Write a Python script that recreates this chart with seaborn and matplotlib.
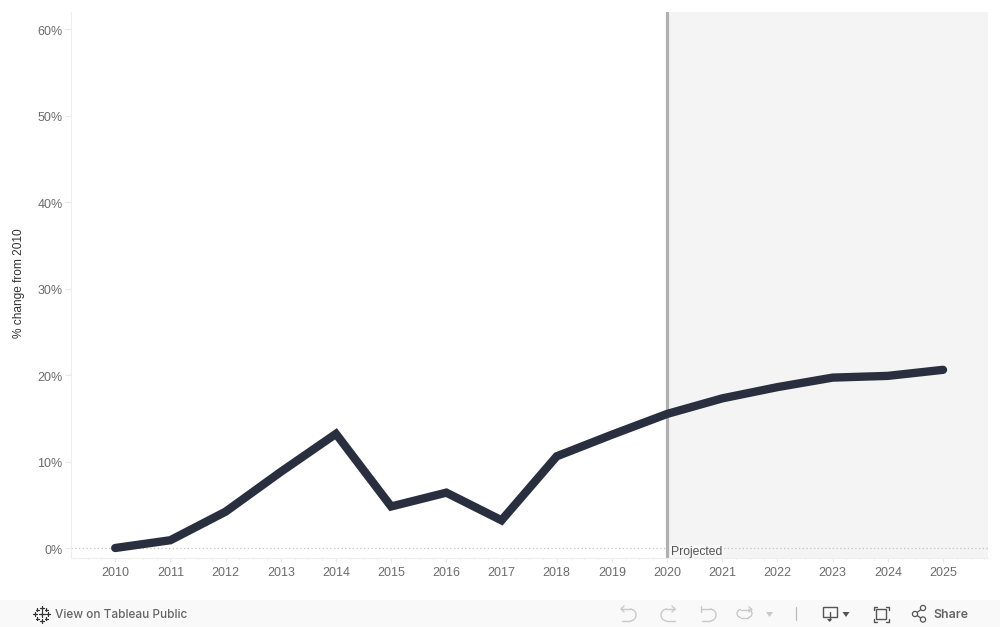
import matplotlib
matplotlib.use("Agg")
import matplotlib.pyplot as plt
import seaborn as sns
import pandas as pd
from matplotlib.patches import Rectangle, Circle, Polygon, Arc
from matplotlib.transforms import ScaledTranslation

years = [2010, 2011, 2012, 2013, 2014, 2015, 2016, 2017, 2018, 2019, 2020, 2021, 2022, 2023, 2024, 2025]
pct_change = [0.0, 0.9, 4.2, 8.8, 13.2, 4.8, 6.4, 3.2, 10.6, 13.1, 15.5, 17.3, 18.6, 19.7, 19.9, 20.6]
y_ticks = [0, 10, 20, 30, 40, 50, 60]
y_labels = ["0%", "10%", "20%", "30%", "40%", "50%", "60%"]

W, H = 1000, 627
sns.set_theme(style="white")
plt.rcParams["font.family"] = ["Liberation Sans", "DejaVu Sans"]

fig = plt.figure(figsize=(W / 100, H / 100), dpi=100, facecolor="white")
ax = fig.add_axes([70.5 / W, 1 - 558 / H, (988 - 70.5) / W, (558 - 12) / H])

df = pd.DataFrame({"year": years, "pct": pct_change})

# projected band and its divider
ax.axvspan(2020, 2025.815, color="#f4f4f4", lw=0, zorder=0)
ax.axhline(0, color="#c4c4c4", lw=0.9, ls=(0, (1, 2)), zorder=1)
ax.axvline(2020, color="#b0b0b0", lw=2.3, zorder=2)

sns.lineplot(data=df, x="year", y="pct", ax=ax, color="#2a2f40", lw=6,
             solid_capstyle="round", solid_joinstyle="miter", zorder=3)

ax.set_xlim(2009.19, 2025.815)
ax.set_ylim(-1.156, 61.97)
ax.set_xticks(years)
ax.set_xticklabels([str(y) for y in years])
ax.set_yticks(y_ticks)
ax.set_yticklabels(y_labels)
ax.set_xticks([y + d for y in [2009] + years for d in (0.25, 0.5, 0.75)
               if 2009.19 < y + d < 2025.815], minor=True)
ax.tick_params(axis="both", which="major", labelsize=9, labelcolor="#6b6b6b",
               color="#e8e8e8", width=0.8, left=True, bottom=True)
ax.tick_params(axis="y", which="major", length=4.3, pad=1.3)
ax.tick_params(axis="x", which="major", length=3, pad=3.2)
ax.tick_params(axis="x", which="minor", color="#f0f0f0", length=1.5, width=0.7, bottom=True)
ax.set_xlabel("")
ax.set_ylabel("")
for side in ("top", "right"):
    ax.spines[side].set_visible(False)
for side in ("left", "bottom"):
    ax.spines[side].set_color("#eeeeee")
    ax.spines[side].set_linewidth(0.8)
# nudge y labels one pixel down
for lab in ax.get_yticklabels():
    lab.set_transform(lab.get_transform() + ScaledTranslation(0, -1 / 100, fig.dpi_scale_trans))

# overlay in pixel coordinates for annotation and toolbar
ov = fig.add_axes([0, 0, 1, 1], facecolor="none")
ov.set_xlim(0, W)
ov.set_ylim(H, 0)
ov.axis("off")

ov.text(19.5, 283, "% change from 2010", rotation=90, ha="center", va="center",
        fontsize=8.6, color="#333333")
ov.add_patch(Rectangle((669.5, 544.5), 54, 12.5, fc="#f7f7f7", lw=0, zorder=4))
ov.text(671, 552, "Projected", ha="left", va="center", fontsize=8.7, color="#555555", zorder=5)

# toolbar strip
ov.add_patch(Rectangle((0, 600), W, 27, fc="#f9f9f9", lw=0))
ov.text(55, 614.5, "View on Tableau Public", ha="left", va="center", fontsize=8.55,
        color="#666666", fontweight="medium", fontfamily=["Inter", "DejaVu Sans"])
ov.text(933, 614.5, "Share", ha="left", va="center", fontsize=8.9,
        color="#666666", fontweight="semibold", fontfamily=["Inter", "DejaVu Sans"])

# tableau logo crosses
dark = "#333333"
for cx, cy, r in [(41.5, 614, 3), (41.5, 607.5, 2), (41.5, 620.5, 2), (35, 614, 2), (48, 614, 2),
                  (37, 609.5, 1.5), (46, 609.5, 1.5), (37, 618.5, 1.5), (46, 618.5, 1.5)]:
    ov.plot([cx - r, cx + r], [cy, cy], color=dark, lw=0.9)
    ov.plot([cx, cx], [cy - r, cy + r], color=dark, lw=0.9)

# undo / redo icons
light = "#c9c9c9"
ov.plot([621, 630], [609, 609], color=light, lw=1)
ov.add_patch(Arc((630, 615), 12, 12, theta1=-90, theta2=90, color=light, lw=1))
ov.plot([630, 622], [621, 621], color=light, lw=1)
ov.plot([624, 621, 624], [606, 609, 612], color=light, lw=1)
ov.plot([675, 666], [609, 609], color=light, lw=1)
ov.add_patch(Arc((667, 615), 12, 12, theta1=90, theta2=270, color=light, lw=1))
ov.plot([667, 675], [621, 621], color=light, lw=1)
ov.plot([672, 675, 672], [606, 609, 612], color=light, lw=1)
ov.plot([701, 710], [609, 609], color=light, lw=1)
ov.plot([701, 701], [606, 612], color=light, lw=1)
ov.add_patch(Arc((710, 615), 12, 12, theta1=-90, theta2=90, color=light, lw=1))
ov.plot([710, 702], [621, 621], color=light, lw=1)
# loop icon
ov.plot([741, 748], [609.5, 609.5], color=light, lw=1)
ov.plot([741, 748], [617.5, 617.5], color=light, lw=1)
ov.add_patch(Arc((741, 613.5), 8, 8, theta1=90, theta2=270, color=light, lw=1))
ov.add_patch(Arc((748, 613.5), 8, 8, theta1=-90, theta2=90, color=light, lw=1))
ov.plot([749, 752, 749], [607, 609.5, 612], color=light, lw=1)
ov.add_patch(Polygon([[766, 612], [773, 612], [769.5, 617]], fc=light, lw=0))
ov.plot([795.5, 795.5], [607, 620], color="#bbbbbb", lw=0.9)

# download, fullscreen and share icons
icon = "#555555"
ov.add_patch(Rectangle((822.5, 606.5), 14, 10, fc="none", ec=icon, lw=1))
ov.plot([829.5, 829.5], [612, 620], color=icon, lw=1)
ov.add_patch(Polygon([[827, 619], [832, 619], [829.5, 622]], fc=icon, lw=0))
ov.add_patch(Polygon([[842.5, 612], [849.5, 612], [846, 617]], fc=icon, lw=0))
ov.add_patch(Rectangle((876, 609), 10, 10, fc="none", ec=icon, lw=1))
for x0, y0, dx, dy in [(873.5, 606.5, 1, 1), (888.5, 606.5, -1, 1), (873.5, 621.5, 1, -1), (888.5, 621.5, -1, -1)]:
    ov.plot([x0 + 3 * dx, x0, x0], [y0, y0, y0 + 3 * dy], color=icon, lw=1)
ov.plot([923, 915, 923], [608, 614, 619.5], color=icon, lw=0.9)
for cx, cy in [(923, 608), (915, 614), (923, 619.5)]:
    ov.add_patch(Circle((cx, cy), 2.6, fc="#f9f9f9", ec=icon, lw=0.9, zorder=4))

fig.savefig("out.png", dpi=100)
